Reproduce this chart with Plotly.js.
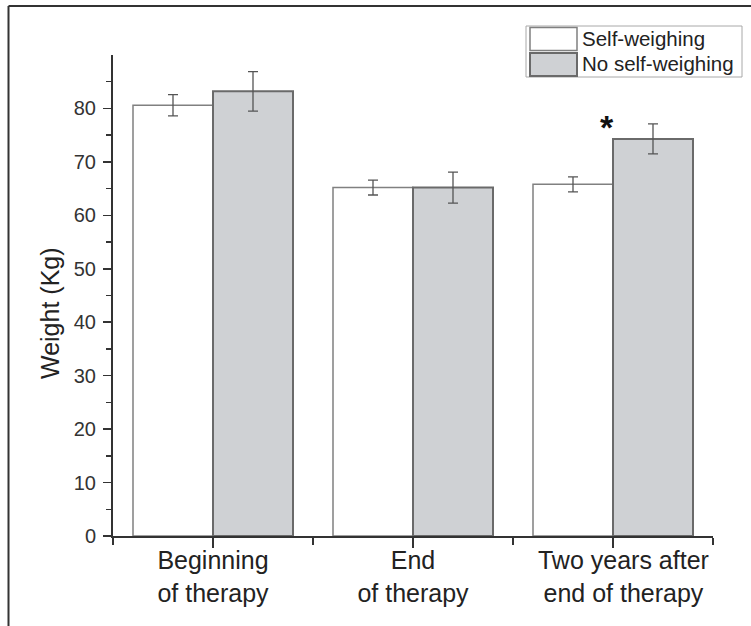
<!DOCTYPE html>
<html>
<head>
<meta charset="utf-8">
<script src="https://cdn.plot.ly/plotly-3.0.1.min.js"></script>
<style>
  html, body { margin: 0; padding: 0; background: #ffffff; }
  #chart { width: 751px; height: 626px; }
</style>
</head>
<body>
<div id="chart"></div>
<script>
// ---- data ----
const categories = ["Beginning<br>of therapy", "End<br>of therapy", "&nbsp;&nbsp;&nbsp;Two years after<br>&nbsp;&nbsp;&nbsp;end of therapy"];
const categoryPos = [0, 1, 2];
const seriesNames = ["Self-weighing", "No self-weighing"];
const selfWeighing = [80.6, 65.2, 65.8];
const selfWeighingErr = [2.0, 1.4, 1.4];
const noSelfWeighing = [83.2, 65.2, 74.3];
const noSelfWeighingErr = [3.7, 2.9, 2.8];
const yTickVals = [0, 10, 20, 30, 40, 50, 60, 70, 80];
const yMinorVals = [5, 15, 25, 35, 45, 55, 65, 75, 85];
const xBoundaryVals = [-0.5, 0.5, 1.5, 2.5];
const yTitle = "Weight (Kg)";
const significance = {x: 2, y: 76.6, text: "*"};

// ---- layout geometry (pixels) ----
const W = 751, H = 626;
const M = {l: 113, r: 38, t: 55, b: 90};
const pw = W - M.l - M.r, ph = H - M.t - M.b;
const px = x => (x - M.l) / pw;
const py = y => (H - M.b - y) / ph;

const FONT = "Liberation Sans, Arial, Helvetica, sans-serif";
const whiteLine = "#808080";
const grayFill = "#cfd1d4";
const grayLine = "#6a6a6a";

const traces = [
  {
    type: "bar", name: seriesNames[0], x: categoryPos, y: selfWeighing,
    marker: {color: "#ffffff", line: {color: whiteLine, width: 1.5}},
    error_y: {type: "data", array: selfWeighingErr, visible: true, color: "#555555", thickness: 1.3, width: 5},
    showlegend: false
  },
  {
    type: "bar", name: seriesNames[1], x: categoryPos, y: noSelfWeighing,
    marker: {color: grayFill, line: {color: grayLine, width: 2}},
    error_y: {type: "data", array: noSelfWeighingErr, visible: true, color: "#555555", thickness: 1.3, width: 5},
    showlegend: false
  }
];

// custom legend (box + swatches + labels)
const legendShapes = [
  {type: "rect", xref: "paper", yref: "paper", x0: px(526), x1: px(742), y0: py(77), y1: py(26),
   line: {color: "#a8a8a8", width: 1}, fillcolor: "rgba(0,0,0,0)"},
  {type: "rect", xref: "paper", yref: "paper", x0: px(530), x1: px(577), y0: py(50.5), y1: py(27.5),
   line: {color: whiteLine, width: 1.5}, fillcolor: "#ffffff"},
  {type: "rect", xref: "paper", yref: "paper", x0: px(530), x1: px(577), y0: py(76), y1: py(53),
   line: {color: grayLine, width: 2}, fillcolor: grayFill}
];
// figure frame (top and left edges)
const frameShapes = [
  {type: "line", xref: "paper", yref: "paper", x0: px(8.5), x1: px(760), y0: py(6), y1: py(6),
   line: {color: "#333333", width: 2}},
  {type: "line", xref: "paper", yref: "paper", x0: px(8.5), x1: px(8.5), y0: py(6), y1: py(640),
   line: {color: "#333333", width: 2}}
];

const annotations = [
  {xref: "paper", yref: "paper", x: px(580), y: py(38.5), xanchor: "left", yanchor: "middle",
   text: seriesNames[0], showarrow: false, font: {family: FONT, size: 20.5, color: "#222222"}},
  {xref: "paper", yref: "paper", x: px(580), y: py(64), xanchor: "left", yanchor: "middle",
   text: seriesNames[1], showarrow: false, font: {family: FONT, size: 20.5, color: "#222222"}},
  {xref: "paper", yref: "paper", x: px(50), y: py(313), xanchor: "center", yanchor: "middle",
   text: yTitle, textangle: -90, showarrow: false, font: {family: FONT, size: 25, color: "#222222"}},
  {xref: "x", yref: "y", x: significance.x, y: significance.y, xshift: -6, xanchor: "center", yanchor: "middle",
   text: "<b>" + significance.text + "</b>", showarrow: false, font: {family: FONT, size: 34, color: "#111111"}}
];

const layout = {
  width: W, height: H,
  margin: M,
  paper_bgcolor: "#ffffff", plot_bgcolor: "#ffffff",
  font: {family: FONT, color: "#222222"},
  barmode: "group", bargap: 0.2, bargroupgap: 0,
  showlegend: false,
  xaxis: {
    type: "linear", range: [-0.5, 2.5], fixedrange: true,
    tickmode: "array", tickvals: categoryPos, ticktext: categories,
    ticks: "outside", ticklen: 10, tickwidth: 1.5, tickcolor: "#333333",
    minor: {tickmode: "array", tickvals: xBoundaryVals, ticks: "outside", ticklen: 7, tickwidth: 1.5, tickcolor: "#333333", showgrid: false},
    showline: true, linecolor: "#333333", linewidth: 2,
    showgrid: false, zeroline: false,
    tickfont: {family: FONT, size: 25, color: "#222222"},
    ticklabelstandoff: -9
  },
  yaxis: {
    range: [0, 90], fixedrange: true,
    tickmode: "array", tickvals: yTickVals,
    ticks: "outside", ticklen: 8, tickwidth: 1.5, tickcolor: "#333333",
    minor: {tickmode: "array", tickvals: yMinorVals, ticks: "outside", ticklen: 5, tickwidth: 1.5, tickcolor: "#333333", showgrid: false},
    showline: true, linecolor: "#333333", linewidth: 2,
    showgrid: false, zeroline: false,
    tickfont: {family: FONT, size: 20, color: "#333333"},
    ticklabelstandoff: 3
  },
  shapes: frameShapes.concat(legendShapes),
  annotations: annotations
};

Plotly.newPlot("chart", traces, layout, {displayModeBar: false, staticPlot: true});
</script>
</body>
</html>
